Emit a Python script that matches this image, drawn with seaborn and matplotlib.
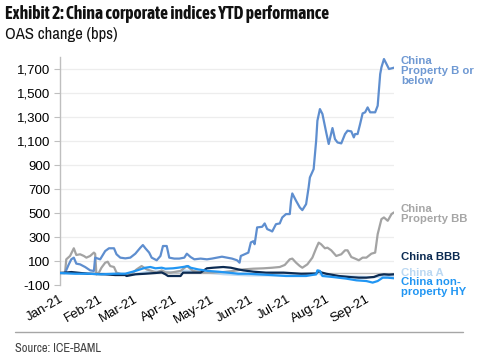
import matplotlib
matplotlib.use("Agg")
import matplotlib.pyplot as plt
import matplotlib.dates as mdates
import matplotlib.ticker as mticker
import matplotlib.patheffects as pe
from matplotlib import font_manager
import numpy as np
import pandas as pd
import seaborn as sns

# ---------------- data (days since 1 Jan 2021, OAS change in bps) ----------------
b_days = [0, 4, 7, 9, 11, 13, 16, 20, 24, 27, 28, 32, 36, 39, 43, 45, 48, 52, 56, 60,
          64, 66, 68, 71, 73, 77, 80, 82, 85, 87, 91, 95, 99, 101, 104, 107, 112, 117,
          121, 125, 129, 133, 137, 141, 143, 144, 147, 150, 152, 154, 155, 157, 161,
          163, 165, 168, 169, 172, 175, 177, 180, 183, 184, 185, 188, 191, 193, 196,
          198, 199, 202, 204, 205, 207, 209, 212, 214, 217, 219, 221, 224, 227, 229,
          232, 234, 235, 237, 239, 241, 243, 245, 247, 251, 253, 255, 256, 258, 260,
          262, 265, 267]
b_vals = [0, 0, 72, 114, 128, 78, 72, 50, 22, 17, 128, 114, 183, 206, 206, 156, 128,
          122, 128, 161, 211, 233, 206, 170, 128, 106, 142, 225, 225, 128, 120, 120,
          128, 161, 133, 114, 120, 114, 120, 128, 136, 128, 120, 106, 86, 142, 156,
          170, 255, 265, 240, 380, 385, 413, 366, 352, 346, 407, 413, 463, 491, 491,
          602, 663, 602, 546, 524, 574, 713, 796, 866, 1102, 1269, 1366, 1325, 1172,
          1075, 1208, 1116, 1088, 1080, 1158, 1186, 1180, 1130, 1158, 1158, 1241,
          1330, 1339, 1380, 1339, 1339, 1394, 1658, 1714, 1783, 1742, 1700, 1708, 1714]

bb_days = [0, 4, 5, 8, 11, 13, 16, 19, 21, 24, 27, 28, 29, 31, 33, 36, 38, 40, 43, 45,
           49, 53, 57, 61, 65, 69, 73, 77, 81, 84, 88, 96, 101, 106, 114, 122, 130,
           138, 146, 154, 162, 169, 175, 179, 183, 185, 188, 191, 193, 197, 201, 204,
           206, 208, 211, 213, 216, 220, 224, 227, 229, 232, 235, 238, 241, 244, 248,
           251, 253, 256, 258, 261, 264, 266]
bb_vals = [0, 0, 114, 142, 206, 150, 156, 142, 128, 142, 170, 160, -11, 3, 44, 86, 94,
           58, 50, 3, -11, -17, -6, 30, 58, 30, 17, 3, 22, 5, 3, 17, 58, 17, 3, 3, 8,
           17, 30, 36, 39, 44, 50, 67, 114, 120, 86, 58, 44, 72, 128, 206, 253, 239,
           206, 211, 189, 142, 156, 189, 189, 133, 120, 106, 128, 128, 161, 170, 324,
           449, 463, 435, 491, 505]

bbb_days = [0, 4, 9, 22, 36, 44, 52, 53, 60, 68, 76, 81, 84, 86, 96, 98, 112, 117, 122,
            130, 136, 142, 146, 154, 164, 178, 192, 204, 206, 208, 212, 222, 230, 238,
            244, 250, 254, 258, 262, 266]
bbb_vals = [0, 3, 8, -6, -11, -17, -17, -25, -11, -6, 0, 5, -11, -25, -25, 3, 3, 39, 44,
            50, 44, 30, 22, 11, 3, 3, -6, -4, 17, 5, -6, -25, -33, -39, -39, -33, -17,
            -11, -14, -11]

a_days = [0, 20, 40, 60, 70, 80, 90, 100, 110, 120, 130, 140, 150, 160, 180, 200, 204,
          205, 208, 220, 235, 250, 258, 266]
a_vals = [0, -3, -8, -10, 10, 15, 5, 20, 10, 0, -10, -15, -20, -20, -20, -15, -12, 10,
          -15, -25, -30, -35, -25, -25]

hy_days = [0, 12, 22, 33, 44, 52, 60, 68, 72, 76, 81, 84, 90, 94, 98, 102, 104, 110,
           118, 126, 134, 142, 150, 158, 168, 180, 196, 204, 205, 207, 209, 217, 228,
           236, 244, 249, 253, 257, 261, 266]
hy_vals = [0, -6, -6, -11, -6, -6, 17, 44, 50, 39, 44, 36, 39, 44, 50, 58, 44, 30, 17,
           11, 3, -6, -6, -11, -17, -25, -25, -11, 22, 17, -25, -33, -47, -61, -67, -80,
           -67, -39, -39, -44]

series_names = ["China Property B or below", "China Property BB", "China BBB",
                "China A", "China non-property HY"]
legend_labels = ["China\nProperty B or\nbelow", "China\nProperty BB", "China BBB",
                 "China A", "China non-\nproperty HY"]
legend_values = [1680, 495, 130, 0, -120]
y_ticks = [-100, 100, 300, 500, 700, 900, 1100, 1300, 1500, 1700]
x_start, x_end = "2021-01-01", "2021-09-24"

colors = {"China Property B or below": "#5E8ECF",
          "China Property BB": "#A3A3A3",
          "China BBB": "#0C2B52",
          "China A": "#BBD8F2",
          "China non-property HY": "#2196F3"}
text_colors = ["#6F99D3", "#A6A6A6", "#0C2B52", "#BBD8F2", "#2196F3"]

# ---------------- build frame ----------------
base = pd.Timestamp(x_start)
frames = []
for name, d, v in [(series_names[0], b_days, b_vals), (series_names[1], bb_days, bb_vals),
                   (series_names[3], a_days, a_vals), (series_names[2], bbb_days, bbb_vals),
                   (series_names[4], hy_days, hy_vals)]:
    frames.append(pd.DataFrame({"date": base + pd.to_timedelta(d, unit="D"),
                                "oas": v, "series": name}))
df = pd.concat(frames, ignore_index=True)

# ---------------- fonts: look for a condensed face ----------------
def _w(f):
    w = f.weight
    if isinstance(w, str):
        return font_manager.weight_dict.get(w, 400)
    return int(w)

cond = [f for f in font_manager.fontManager.ttflist
        if "Narrow" in f.name or "Condensed" in f.name]
narrow_family = cond[0].name if cond else "Liberation Sans"
bold_family = None
for f in cond:
    if _w(f) >= 600:
        bold_family = f.name
        break

sns.set_theme(style="white")
plt.rcParams["font.family"] = ["Liberation Sans", "DejaVu Sans"]

fig = plt.figure(figsize=(4.8, 3.6), dpi=100)
ax = fig.add_axes([60 / 480, 1 - 285 / 360, (394 - 60) / 480, (285 - 57) / 360])

for t in y_ticks[1:]:
    ax.axhline(t, color="#EDEDED", lw=0.9, zorder=0)
ax.axhline(0, color="#BFBFBF", lw=1.0, zorder=1)

sns.lineplot(data=df, x="date", y="oas", hue="series", palette=colors,
             hue_order=[series_names[3], series_names[1], series_names[0],
                        series_names[2], series_names[4]],
             estimator=None, sort=False, lw=1.6, legend=False, ax=ax, zorder=3)

ax.set_xlim(pd.Timestamp(x_start), pd.Timestamp(x_end))
ax.set_ylim(-100, 1800)
ax.set_yticks(y_ticks)
ax.yaxis.set_major_formatter(mticker.FuncFormatter(lambda v, p: f"{int(v):,}"))
ax.xaxis.set_major_locator(mdates.MonthLocator())
ax.xaxis.set_major_formatter(mdates.DateFormatter("%b-%y"))
ax.set_xlabel("")
ax.set_ylabel("")
for s in ["top", "right", "bottom"]:
    ax.spines[s].set_visible(False)
ax.spines["left"].set_color("#BFBFBF")
ax.spines["left"].set_linewidth(1.0)
ax.tick_params(axis="y", length=4, color="#BFBFBF", width=0.8, labelsize=9.5,
               labelcolor="#000000", pad=3, left=True)
ax.tick_params(axis="x", length=0, labelsize=9.5, labelcolor="#000000", pad=6)
for lab in ax.get_xticklabels():
    lab.set_rotation(30)
    lab.set_ha("right")
    lab.set_rotation_mode("anchor")

# right-side labels
for lab, val, col in zip(legend_labels, legend_values, text_colors):
    ax.annotate(lab, xy=(1.0, val), xycoords=("axes fraction", "data"),
                xytext=(5, 0), textcoords="offset points", ha="left", va="center",
                fontsize=8.2, fontweight="bold", color=col, linespacing=1.0,
                annotation_clip=False)

if bold_family:
    title = fig.text(5 / 480, 1 - 14 / 360,
                     "Exhibit 2: China corporate indices YTD performance",
                     family=bold_family, fontweight="bold", fontsize=13,
                     va="center", ha="left", color="#111111")
else:
    title = fig.text(5 / 480, 1 - 14 / 360,
                     "Exhibit 2: China corporate indices YTD performance",
                     family=narrow_family, fontsize=13, va="center", ha="left",
                     color="#111111",
                     path_effects=[pe.withStroke(linewidth=0.9, foreground="#111111")])
subtitle = fig.text(5 / 480, 1 - 35 / 360, "OAS change (bps)", family=narrow_family,
                    fontsize=12, va="center", ha="left", color="#111111")
fig.add_artist(plt.Line2D([15 / 480, 463 / 480], [1 - 332 / 360, 1 - 332 / 360],
                          color="#A6A6A6", lw=1.0, transform=fig.transFigure))
source = fig.text(15 / 480, 1 - 348 / 360, "Source: ICE-BAML", family=narrow_family,
                  fontsize=9.5, color="#404040", va="center", ha="left")

# fit header/footer texts to the reference widths
renderer = fig.canvas.get_renderer()
for txt, target in [(title, 324), (subtitle, 135), (source, 86)]:
    w = txt.get_window_extent(renderer).width
    if w > target:
        txt.set_fontsize(txt.get_fontsize() * target / w)

fig.savefig("out.png", dpi=100)
